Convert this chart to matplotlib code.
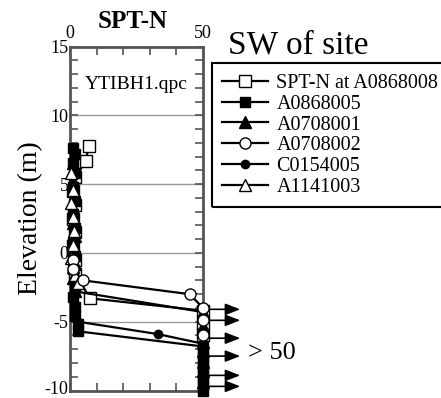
import matplotlib

matplotlib.use("Agg")

import matplotlib.pyplot as plt
from matplotlib.patches import Rectangle
from matplotlib.transforms import ScaledTranslation

plt.rcParams["font.family"] = ["Liberation Serif", "DejaVu Serif"]
plt.rcParams["axes.unicode_minus"] = False

# SPT-N profiles (N value, elevation in m); N=50 means refusal (> 50)
n_a0868008 = [7, 6, 2, 1, 2, 1, 2, 1, 2, 2, 7.5, 50, 50, 50]
z_a0868008 = [7.8, 6.7, 5.5, 4.5, 3.5, 2.5, 1.5, 0.5, -0.5, -1.5, -3.3, -4.2, -5.1, -6.0]

n_a0868005 = [1, 2, 1, 2, 1, 2, 1, 2, 1, 2, 1, 2, 1, 2, 2, 3, 3,
              50, 50, 50, 50, 50, 50, 50, 50, 50]
z_a0868005 = [7.6, 7.2, 6.5, 5.8, 4.8, 3.8, 2.8, 1.8, 0.8, -0.2, -1.2, -2.5, -3.2,
              -3.9, -4.6, -5.2, -5.7,
              -6.8, -7.2, -7.6, -8.0, -8.4, -8.8, -9.2, -9.6, -10.0]

n_a0708001 = [1, 1, 2, 1, 1, 2, 1, 2, 1, 2, 50, 50, 50, 50, 50, 50, 50]
z_a0708001 = [6.5, 5.2, 4.2, 3.2, 2.2, 1.2, 0.2, -0.8, -1.8, -2.8, -4.3, -5.3, -6.5,
              -7.1, -7.9, -8.6, -9.4]

n_a0708002 = [1, 1, 5, 45, 50, 50, 50]
z_a0708002 = [-0.5, -1.2, -2.0, -3.0, -4.0, -4.9, -6.0]

n_c0154005 = [2, 2, 3, 33, 50, 50, 50, 50, 50, 50]
z_c0154005 = [-3.0, -4.0, -5.0, -5.9, -6.6, -7.3, -8.1, -8.7, -9.3, -9.8]

n_a1141003 = [0.5, 1, 0.5, 1, 1.5, 1, 0.5, 1, 2, 3]
z_a1141003 = [5.8, 4.6, 3.6, 2.6, 1.6, 0.6, -0.4, -1.0, -1.6, -2.2]

# refusal arrows (> 50) on the right side
arrow_z = [-4.1, -4.9, -6.2, -7.5, -8.9, -9.7]

series = [
    (n_a0868008, z_a0868008, "SPT-N at A0868008", "s", "white", 9),
    (n_a0868005, z_a0868005, "A0868005", "s", "black", 7),
    (n_a0708001, z_a0708001, "A0708001", "^", "black", 8),
    (n_a0708002, z_a0708002, "A0708002", "o", "white", 8),
    (n_c0154005, z_c0154005, "C0154005", "o", "black", 6),
    (n_a1141003, z_a1141003, "A1141003", "^", "white", 8),
]
zorders = [3, 4, 4, 6, 5, 5]

fig = plt.figure(figsize=(4.41, 3.98), dpi=100)
ax = fig.add_axes([70 / 441, 1 - 390.5 / 398, 133 / 441, 344 / 398])

handles = []
for (n, z, lab, mk, fc, ms), zo in zip(series, zorders):
    h, = ax.plot(n, z, color="black", lw=1.6, marker=mk, mfc=fc, mec="black",
                 mew=1.0, ms=ms, label=lab, clip_on=False, zorder=zo)
    handles.append(h)

for z in arrow_z:
    ax.annotate("", xy=(64, z), xytext=(52.5, z), annotation_clip=False,
                arrowprops=dict(arrowstyle="-|>,head_length=0.9,head_width=0.35",
                                color="black", lw=1.2, shrinkA=0, shrinkB=0))

ax.set_xlim(0, 50)
ax.set_ylim(-10, 15)
ax.xaxis.tick_top()
ax.set_xticks(range(0, 51, 10))
ax.set_xticklabels(["0", "", "", "", "", "50"], fontsize=13)
ax.tick_params(axis="x", which="both", direction="in", top=True, bottom=True,
               length=6, width=1.2, color="#555555", pad=3)
ax.set_yticks(range(-10, 16, 5))
ax.set_yticks(range(-10, 16, 1), minor=True)
ax.tick_params(axis="y", which="both", direction="in", left=True, right=True,
               length=6, width=1.2, color="#555555", labelsize=13, pad=1)
# nudge the bottom label up a little so it stays inside the figure
lab = ax.get_yticklabels()[0]
lab.set_transform(lab.get_transform() + ScaledTranslation(0, 2.5 / 72, fig.dpi_scale_trans))
ax.grid(axis="y", which="major", color="#999999", lw=1.0)
for s in ax.spines.values():
    s.set_color("#555555")
    s.set_linewidth(2)
ax.set_ylabel("Elevation (m)", fontsize=20, labelpad=1)
ax.text(0.5, 0.89, "YTIBH1.qpc", transform=ax.transAxes, ha="center",
        va="center", fontsize=14)
ax.text(67, -7.3, "> 50", fontsize=19, va="center", ha="left", clip_on=False)

fig.text(133 / 441, 1 - 28 / 398, "SPT-N", fontsize=18, fontweight="bold",
         ha="center", va="baseline")
fig.text(228 / 441, 1 - 45 / 398, "SW of site", fontsize=24, va="center", ha="left")

fig.patches.append(Rectangle((212 / 441, 1 - 207 / 398), 0.6, 144 / 398,
                             transform=fig.transFigure, fill=False,
                             edgecolor="black", lw=1.5))
fig.legend(handles=handles, loc="upper left",
           bbox_to_anchor=(222 / 441, 1 - 74 / 398), frameon=False,
           fontsize=14.5, handlelength=2.3, handletextpad=0.4, labelspacing=0.08,
           borderaxespad=0, borderpad=0)

fig.savefig("out.png", dpi=100)
